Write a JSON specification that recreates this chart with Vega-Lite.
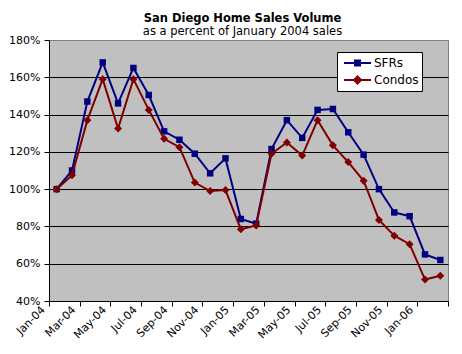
{
  "$schema": "https://vega.github.io/schema/vega-lite/v6.json",
  "autosize": "none",
  "width": 399,
  "height": 261,
  "padding": {"left": 49, "top": 40, "right": 14, "bottom": 53},
  "background": "white",
  "title": {
    "text": "San Diego Home Sales Volume",
    "subtitle": "as a percent of January 2004 sales",
    "anchor": "middle",
    "dx": -6,
    "offset": -3
  },
  "config": {
    "font": "DejaVu Sans",
    "view": {"fill": "#C0C0C0", "stroke": "#808080", "strokeWidth": 1},
    "title": {"font": "DejaVu Sans", "fontSize": 11.5, "fontWeight": "bold", "color": "black", "subtitleFont": "DejaVu Sans", "subtitleFontSize": 11.5, "subtitleColor": "black", "subtitlePadding": 1},
    "axis": {"labelFont": "DejaVu Sans", "labelFontSize": 11, "labelColor": "black", "domainColor": "black", "tickColor": "black", "tickSize": 5, "domainWidth": 1, "tickWidth": 1}
  },
  "data": {
    "values": [
      {"month": "Jan-04", "i": 0, "series": "SFRs", "pct": 100},
      {"month": "Feb-04", "i": 1, "series": "SFRs", "pct": 110},
      {"month": "Mar-04", "i": 2, "series": "SFRs", "pct": 147},
      {"month": "Apr-04", "i": 3, "series": "SFRs", "pct": 168},
      {"month": "May-04", "i": 4, "series": "SFRs", "pct": 146},
      {"month": "Jun-04", "i": 5, "series": "SFRs", "pct": 165},
      {"month": "Jul-04", "i": 6, "series": "SFRs", "pct": 150.5},
      {"month": "Aug-04", "i": 7, "series": "SFRs", "pct": 131},
      {"month": "Sep-04", "i": 8, "series": "SFRs", "pct": 126.5},
      {"month": "Oct-04", "i": 9, "series": "SFRs", "pct": 119},
      {"month": "Nov-04", "i": 10, "series": "SFRs", "pct": 108.5},
      {"month": "Dec-04", "i": 11, "series": "SFRs", "pct": 116.5},
      {"month": "Jan-05", "i": 12, "series": "SFRs", "pct": 84},
      {"month": "Feb-05", "i": 13, "series": "SFRs", "pct": 81.5},
      {"month": "Mar-05", "i": 14, "series": "SFRs", "pct": 121.5},
      {"month": "Apr-05", "i": 15, "series": "SFRs", "pct": 137},
      {"month": "May-05", "i": 16, "series": "SFRs", "pct": 127.5},
      {"month": "Jun-05", "i": 17, "series": "SFRs", "pct": 142.5},
      {"month": "Jul-05", "i": 18, "series": "SFRs", "pct": 143},
      {"month": "Aug-05", "i": 19, "series": "SFRs", "pct": 130.5},
      {"month": "Sep-05", "i": 20, "series": "SFRs", "pct": 118.5},
      {"month": "Oct-05", "i": 21, "series": "SFRs", "pct": 100},
      {"month": "Nov-05", "i": 22, "series": "SFRs", "pct": 87.5},
      {"month": "Dec-05", "i": 23, "series": "SFRs", "pct": 85.5},
      {"month": "Jan-06", "i": 24, "series": "SFRs", "pct": 65},
      {"month": "Feb-06", "i": 25, "series": "SFRs", "pct": 62},
      {"month": "Jan-04", "i": 0, "series": "Condos", "pct": 100},
      {"month": "Feb-04", "i": 1, "series": "Condos", "pct": 107.5},
      {"month": "Mar-04", "i": 2, "series": "Condos", "pct": 137},
      {"month": "Apr-04", "i": 3, "series": "Condos", "pct": 159},
      {"month": "May-04", "i": 4, "series": "Condos", "pct": 132.5},
      {"month": "Jun-04", "i": 5, "series": "Condos", "pct": 159},
      {"month": "Jul-04", "i": 6, "series": "Condos", "pct": 142.5},
      {"month": "Aug-04", "i": 7, "series": "Condos", "pct": 127},
      {"month": "Sep-04", "i": 8, "series": "Condos", "pct": 122.5},
      {"month": "Oct-04", "i": 9, "series": "Condos", "pct": 103.5},
      {"month": "Nov-04", "i": 10, "series": "Condos", "pct": 99},
      {"month": "Dec-04", "i": 11, "series": "Condos", "pct": 99.5},
      {"month": "Jan-05", "i": 12, "series": "Condos", "pct": 78.5},
      {"month": "Feb-05", "i": 13, "series": "Condos", "pct": 80.5},
      {"month": "Mar-05", "i": 14, "series": "Condos", "pct": 119},
      {"month": "Apr-05", "i": 15, "series": "Condos", "pct": 125},
      {"month": "May-05", "i": 16, "series": "Condos", "pct": 118},
      {"month": "Jun-05", "i": 17, "series": "Condos", "pct": 137},
      {"month": "Jul-05", "i": 18, "series": "Condos", "pct": 123.5},
      {"month": "Aug-05", "i": 19, "series": "Condos", "pct": 114.5},
      {"month": "Sep-05", "i": 20, "series": "Condos", "pct": 104.5},
      {"month": "Oct-05", "i": 21, "series": "Condos", "pct": 83.5},
      {"month": "Nov-05", "i": 22, "series": "Condos", "pct": 75},
      {"month": "Dec-05", "i": 23, "series": "Condos", "pct": 70.5},
      {"month": "Jan-06", "i": 24, "series": "Condos", "pct": 51.5},
      {"month": "Feb-06", "i": 25, "series": "Condos", "pct": 53.5}
    ]
  },
  "encoding": {
    "x": {
      "field": "i",
      "type": "quantitative",
      "scale": {"domain": [-0.5, 25.5], "nice": false, "zero": false},
      "axis": {
        "title": null,
        "grid": false,
        "values": [-0.5, 1.5, 3.5, 5.5, 7.5, 9.5, 11.5, 13.5, 15.5, 17.5, 19.5, 21.5, 23.5, 25.5],
        "labelExpr": "round(datum.value + 0.5) > 24 ? '' : ['Jan','Feb','Mar','Apr','May','Jun','Jul','Aug','Sep','Oct','Nov','Dec'][round(datum.value + 0.5) % 12] + '-0' + (4 + floor(round(datum.value + 0.5) / 12))",
        "labelAngle": -45,
        "labelAlign": "right",
        "labelBaseline": "middle",
        "labelPadding": 2,
        "labelOffset": -6,
        "labelFlush": false,
        "labelOverlap": false,
        "labelBound": false
      }
    },
    "y": {
      "field": "pct",
      "type": "quantitative",
      "scale": {"domain": [40, 180], "nice": false, "zero": false},
      "axis": {
        "title": null,
        "values": [40, 60, 80, 100, 120, 140, 160, 180],
        "labelExpr": "datum.value + '%'",
        "grid": true,
        "gridColor": {"condition": {"test": "datum.value >= 180 || datum.value <= 40", "value": "#808080"}, "value": "black"},
        "gridOpacity": 1,
        "gridWidth": 1,
        "labelPadding": 4
      }
    }
  },
  "layer": [
    {
      "transform": [{"filter": "datum.series === 'SFRs'"}],
      "mark": {"type": "line", "strokeWidth": 2},
      "encoding": {
        "color": {
          "field": "series",
          "type": "nominal",
          "sort": ["SFRs", "Condos"],
          "scale": {"domain": ["SFRs", "Condos"], "range": ["#000080", "#800000"]},
          "legend": {
            "title": null,
            "orient": "none",
            "legendX": 288,
            "legendY": 12,
            "fillColor": "white",
            "strokeColor": "black",
            "padding": 3,
            "labelFont": "DejaVu Sans",
            "labelFontSize": 12,
            "labelColor": "black",
            "symbolSize": 196,
            "symbolType": "M-0.57,0H3.29M1,-0.36H1.72V0.36H1Z",
            "symbolStrokeWidth": 2,
            "labelOffset": 18,
            "rowPadding": 2,
            "encode": {
              "symbols": {
                "update": {
                  "shape": {"signal": "datum.value === 'SFRs' ? 'M-0.57,0H3.29M1,-0.36H1.72V0.36H1Z' : 'M-0.57,0H3.29M1.36,-0.5L1.86,0L1.36,0.5L0.86,0Z'"},
                  "fill": {"signal": "datum.value === 'SFRs' ? '#000080' : '#800000'"},
                  "stroke": {"signal": "datum.value === 'SFRs' ? '#000080' : '#800000'"},
                  "strokeWidth": {"value": 2},
                  "opacity": {"value": 1},
                  "fillOpacity": {"value": 1}
                }
              }
            }
          }
        }
      }
    },
    {
      "transform": [{"filter": "datum.series === 'SFRs'"}],
      "mark": {"type": "point", "filled": true, "opacity": 1, "shape": "square", "size": 42, "color": "#000080"}
    },
    {
      "transform": [{"filter": "datum.series === 'Condos'"}],
      "mark": {"type": "line", "strokeWidth": 2},
      "encoding": {
        "color": {"field": "series", "type": "nominal"}
      }
    },
    {
      "transform": [{"filter": "datum.series === 'Condos'"}],
      "mark": {"type": "point", "filled": true, "opacity": 1, "shape": "diamond", "size": 64, "color": "#800000"}
    },
    {
      "data": {"values": [{"note": "© 2006 piggington.com"}]},
      "mark": {"type": "text", "align": "left", "baseline": "alphabetic", "dx": 1, "fontSize": 11, "color": "#808080", "font": "DejaVu Sans"},
      "encoding": {"x": {"datum": 0}, "y": {"datum": 54.5}, "text": {"field": "note"}}
    },
    {
      "data": {"values": [{"note": "Source: DataQuick"}]},
      "mark": {"type": "text", "align": "left", "baseline": "alphabetic", "dx": 1, "fontSize": 11, "fontStyle": "italic", "color": "#808080", "font": "DejaVu Sans"},
      "encoding": {"x": {"datum": 0}, "y": {"datum": 45.5}, "text": {"field": "note"}}
    }
  ]
}
